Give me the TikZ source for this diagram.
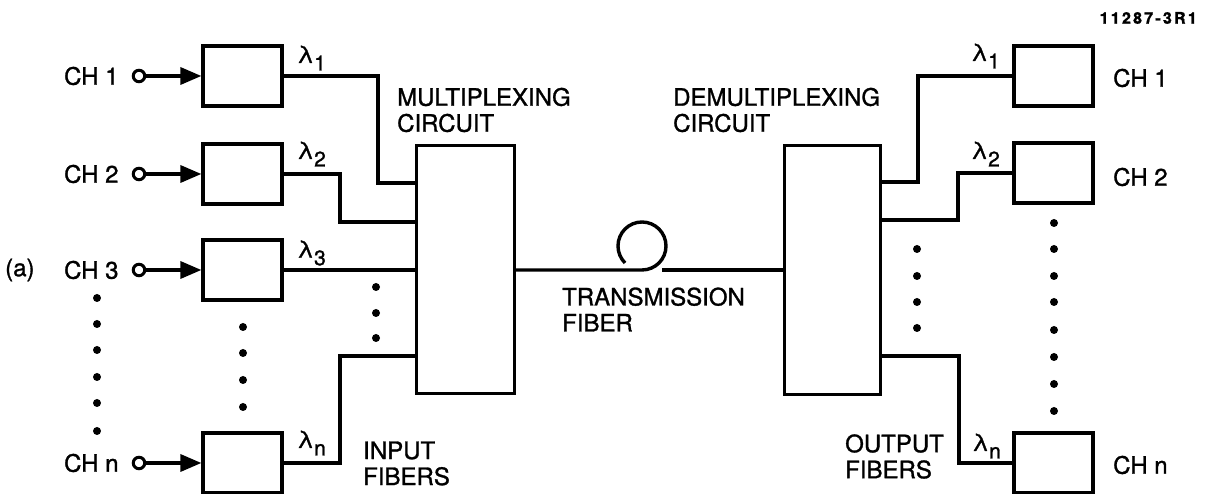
\documentclass[tikz,border=0pt]{standalone}
\usepackage{fontspec}
\setmainfont{TeX Gyre Heros}[FakeBold=1.2]
\usetikzlibrary{arrows.meta}
\newcommand\lamsub[1]{λ\kern0.5pt\raisebox{-7.5pt}{\fontsize{21}{21}\selectfont #1}}
\begin{document}
\begin{tikzpicture}[x=1pt,y=1pt,
  blk/.style={draw, line width=3.2pt, minimum width=79pt, minimum height=60pt, inner sep=0pt},
  bigblk/.style={draw, line width=3pt, inner sep=0pt},
  fib/.style={line width=4.8pt},
  trans/.style={line width=3.4pt},
  lbl/.style={font=\fontsize{24}{26}\selectfont, inner sep=0pt, anchor=west, align=left},
  dotm/.style={circle, fill, inner sep=0pt, minimum size=8pt},
  term/.style={circle, draw, line width=3pt, inner sep=0pt, minimum size=11.5pt},
  feed/.style={line width=3.4pt, -{Triangle[length=21pt,width=17pt]}}]
\useasboundingbox (0,0) rectangle (1211,494);

% left boxes and terminals
\node[blk] (b1) at (242.5,418) {};
\node[blk] (b2) at (242.5,320) {};
\node[blk] (b3) at (242.5,224) {};
\node[blk] (bn) at (242.5,31) {};
\foreach \n/\y/\t in {1/418/CH 1,2/320/CH 2,3/224/CH 3,n/31/CH n}{
  \node[term] (t\n) at (139,\y) {};
  \node[lbl, anchor=east] (c\n) at ([xshift=-13pt]t\n.west) {\t};
  \draw[feed] (t\n.east) -- (b\n.west);
}
\node[lbl] (lab) at (5,224) {(a)};

% multiplexer
\node[bigblk, minimum width=98pt, minimum height=248pt] (mux) at (465,224) {};
\coordinate (m1) at (mux.west |- 0,311);
\coordinate (m2) at (mux.west |- 0,272);
\coordinate (m3) at (mux.west |- 0,224);
\coordinate (m4) at (mux.west |- 0,138);
\draw[fib] (b1.east) -- (378,418) |- (m1);
\draw[fib] (b2.east) -- (340,320) |- (m2);
\draw[fib] (b3.east) -- (m3);
\draw[fib] (bn.east) -- (340,31) |- (m4);

\node[lbl] (l1) at (297,436) {\lamsub{1}};
\node[lbl] (l2) at (297,340) {\lamsub{2}};
\node[lbl] (l3) at (297,241) {\lamsub{3}};
\node[lbl] (ln) at (297,51) {\lamsub{n}};

\node[lbl] (muxlab) at (397,384) {MULTIPLEXING\\CIRCUIT};
\node[lbl] (inlab) at (363,30.5) {INPUT\\FIBERS};

% demultiplexer
\node[bigblk, minimum width=96pt, minimum height=249pt] (demux) at (832,224) {};
\coordinate (d1) at (demux.east |- 0,312);
\coordinate (d2) at (demux.east |- 0,274);
\coordinate (d3) at (demux.east |- 0,138);

% transmission fiber
\coordinate (loopA) at (642,224);
\coordinate (loopB) at (662,224);
\draw[trans] (mux.east) -- (loopA) arc[start angle=-90, end angle=225, radius=24];
\draw[trans] (loopB) -- (demux.west);
\node[lbl] (translab) at (562,184.5) {TRANSMISSION\\FIBER};
\node[lbl] (demuxlab) at (673,384) {DEMULTIPLEXING\\CIRCUIT};

% right boxes
\node[blk] (r1) at (1053.5,418) {};
\node[blk] (r2) at (1053.5,321) {};
\node[blk] (rn) at (1053.5,31) {};
\draw[fib] (d1) -- (918,312) |- (r1.west);
\draw[fib] (d2) -- (958,274) |- (r2.west);
\draw[fib] (d3) -- (959,138) |- (rn.west);
\node[lbl] (rc1) at (1113,416) {CH 1};
\node[lbl] (rc2) at (1113,317) {CH 2};
\node[lbl] (rcn) at (1113,29) {CH n};
\node[lbl] (rl1) at (971,438) {\lamsub{1}};
\node[lbl] (rl2) at (971,340) {\lamsub{2}};
\node[lbl] (rln) at (972,48) {\lamsub{n}};
\node[lbl] (outlab) at (845,37.5) {OUTPUT\\FIBERS};

% dots
\foreach \y [count=\i] in {196,170,144,117,91,63} \node[dotm] (da\i) at (97,\y) {};
\foreach \y [count=\i] in {167,141,114,87} \node[dotm] (db\i) at (243,\y) {};
\foreach \y [count=\i] in {207,181,156} \node[dotm] (dc\i) at (376,\y) {};
\foreach \y [count=\i] in {245,218,192,166} \node[dotm] (dd\i) at (917,\y) {};
\foreach \y [count=\i] in {271,245,218,192,164,137,110,83} \node[dotm] (de\i) at (1054,\y) {};

% figure number
\node[inner sep=0pt, anchor=east, font=\fontsize{16}{18}\selectfont\bfseries\addfontfeature{LetterSpace=14}] (fig) at (1197,476) {11287-3R1};
\end{tikzpicture}
\end{document}
